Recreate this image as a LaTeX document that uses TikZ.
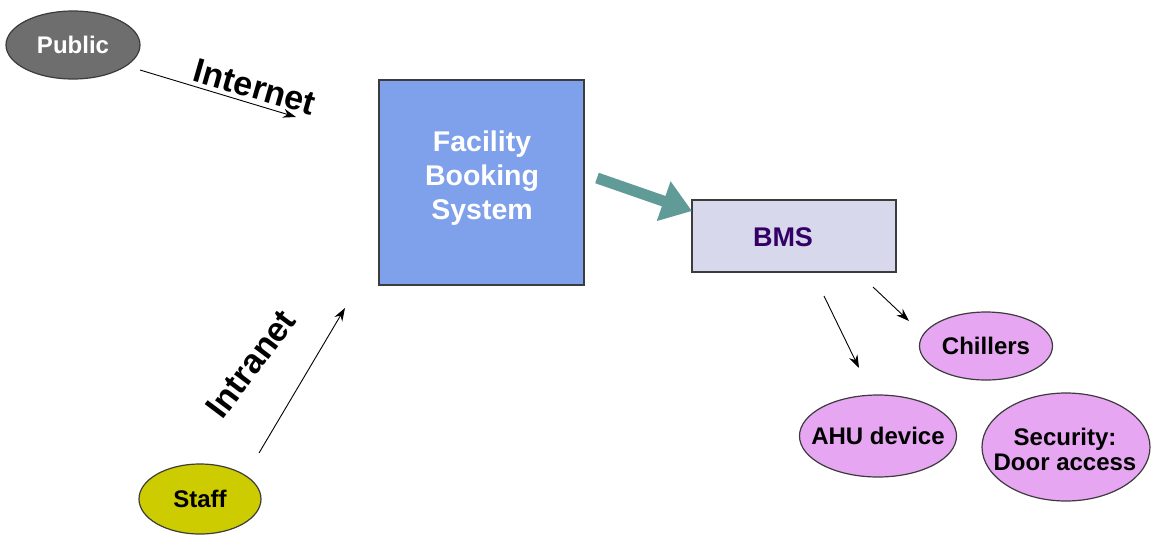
\documentclass[tikz,border=0pt]{standalone}
\usepackage{fontspec}
\setmainfont{Liberation Sans}
\usetikzlibrary{shapes.geometric,arrows.meta}
\definecolor{pubgray}{RGB}{110,110,110}
\definecolor{fbsblue}{RGB}{127,160,234}
\definecolor{bmsfill}{RGB}{216,216,236}
\definecolor{bmstext}{RGB}{51,0,102}
\definecolor{devviolet}{RGB}{230,166,242}
\definecolor{staffyellow}{RGB}{204,204,0}
\definecolor{flowteal}{RGB}{96,155,152}
\definecolor{edgegray}{RGB}{60,60,60}
\tikzset{
  oval/.style={ellipse, draw=edgegray, line width=1.2pt, inner sep=0pt},
  ovaltext/.style={font=\bfseries\fontsize{24}{27}\selectfont, align=center, inner sep=0pt},
  device/.style={oval, fill=devviolet},
  link/.style={draw=black, line width=0.9pt, -{Stealth[length=13pt,width=9pt]}},
  netlabel/.style={font=\bfseries\fontsize{34}{38}\selectfont, text=black}
}
\begin{document}
\begin{tikzpicture}[x=1pt,y=-1pt]
\useasboundingbox (0,0) rectangle (1157,539);
\fill[white] (0,0) rectangle (1157,539);

% users
\node[oval, fill=pubgray, minimum width=134pt, minimum height=68pt] (public) at (73,45) {};
\node[ovaltext, text=white] (publictext) at (public.center) {Public};
\node[oval, fill=staffyellow, minimum width=122pt, minimum height=70pt] (staff) at (200,499) {};
\node[ovaltext, text=black] (stafftext) at (staff.center) {Staff};

% central system
\node[draw=edgegray, line width=1.2pt, fill=fbsblue, minimum width=205pt, minimum height=205pt] (fbs) at (481.5,182.5) {};
\node[text=white, align=center, font=\bfseries\fontsize{28.5}{34}\selectfont] (fbstext) at (482,178) {Facility\\Booking\\System};
\node[draw=edgegray, line width=1.2pt, fill=bmsfill, minimum width=204pt, minimum height=72pt] (bms) at (794,236) {};
\node[text=bmstext, font=\bfseries\fontsize{27}{30}\selectfont] (bmstext) at (783,237) {BMS};

% devices
\node[device, minimum width=133pt, minimum height=68pt] (chill) at (986,346) {};
\node[ovaltext] (chilltext) at (chill.center) {Chillers};
\node[device, minimum width=157pt, minimum height=82pt] (ahu) at (878,436) {};
\node[ovaltext] (ahutext) at (ahu.center) {AHU device};
\node[device, minimum width=168pt, minimum height=108pt] (sec) at (1066,447) {};
\node[ovaltext, font=\bfseries\fontsize{24}{25}\selectfont] (sectext) at (1065,449) {Security:\\Door access};

% connection endpoints
\coordinate (inetA) at (140,70);
\coordinate (inetB) at (296,117);
\coordinate (intrA) at (259,453);
\coordinate (intrB) at (345,308);
\coordinate (tealA) at (597,178);
\coordinate (tealB) at (692,211);
\coordinate (ahuA) at (824,296);
\coordinate (ahuB) at (859,368);
\coordinate (chA) at (873,287);
\coordinate (chB) at (909,321);

\draw[link] (inetA) -- (inetB);
\node[netlabel, rotate=-16] (inet) at (255,87) {Internet};
\draw[link] (intrA) -- (intrB);
\node[netlabel, rotate=53] (intr) at (251,364) {Intranet};

\draw[draw=flowteal, line width=11pt, -{Triangle[length=30pt,width=40pt]}] (tealA) -- (tealB);

\draw[link] (ahuA) -- (ahuB);
\draw[link] (chA) -- (chB);
\end{tikzpicture}
\end{document}
